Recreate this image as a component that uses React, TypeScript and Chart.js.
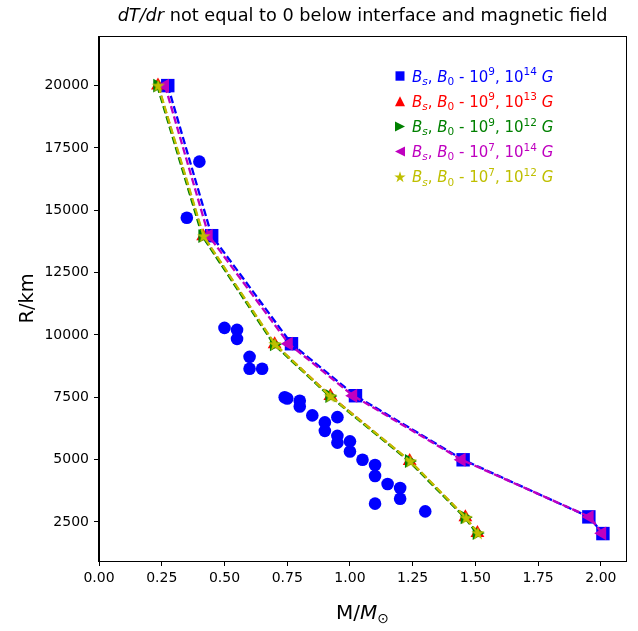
import React, { useEffect, useRef } from 'react';
import { Chart, registerables } from 'chart.js';

Chart.register(...registerables);

// Observed data (blue circles)
const obsMass = [0.40, 0.35, 0.50, 0.55, 0.55, 0.60, 0.60, 0.65, 0.74, 0.75, 0.80, 0.80, 0.85, 0.90, 0.90, 0.95, 0.95, 0.95, 1.00, 1.00, 1.05, 1.10, 1.10, 1.10, 1.15, 1.20, 1.20, 1.30];
const obsRadius = [16950, 14700, 10280, 10200, 9840, 9120, 8640, 8640, 7500, 7450, 7360, 7130, 6770, 6490, 6150, 6700, 5950, 5680, 5730, 5320, 4990, 4780, 4340, 3230, 4020, 3860, 3430, 2920];

// Bs, B0 - 1e9, 1e14 G
const blueMass = [0.274, 0.449, 0.767, 1.022, 1.451, 1.952, 2.008];
const blueRadius = [20000, 13980, 9645, 7560, 4990, 2700, 2030];
// Bs, B0 - 1e9, 1e13 G
const redMass = [0.235, 0.415, 0.700, 0.922, 1.238, 1.460, 1.508];
const redRadius = [20000, 13960, 9620, 7550, 4940, 2680, 2050];
// Bs, B0 - 1e9, 1e12 G
const greenMass = [0.232, 0.412, 0.697, 0.918, 1.235, 1.457, 1.505];
const greenRadius = [20000, 13960, 9620, 7550, 4940, 2680, 2050];
// Bs, B0 - 1e7, 1e14 G
const magentaMass = [0.263, 0.437, 0.756, 1.013, 1.445, 1.955, 2.005];
const magentaRadius = [20000, 13980, 9645, 7560, 4990, 2700, 2040];
// Bs, B0 - 1e7, 1e12 G
const yellowMass = [0.236, 0.417, 0.701, 0.922, 1.241, 1.463, 1.510];
const yellowRadius = [20000, 13960, 9630, 7540, 4930, 2660, 2048];

const xTicks = [0, 0.25, 0.5, 0.75, 1.0, 1.25, 1.5, 1.75, 2.0];
const yTicks = [2500, 5000, 7500, 10000, 12500, 15000, 17500, 20000];

const BLUE = '#0000ff';
const RED = '#ff0000';
const GREEN = '#008000';
const MAGENTA = '#bf00bf';
const YELLOW = '#bfbf00';
const FONT = "'DejaVu Sans', sans-serif";

const pts = (xs: number[], ys: number[]) => xs.map((x, i) => ({ x, y: ys[i] }));

function starImage(color: string, size: number) {
  const c = document.createElement('canvas');
  c.width = size;
  c.height = size;
  const ctx = c.getContext('2d')!;
  const cx = size / 2, cy = size / 2 + 0.5, R = size / 2, r = R * 0.382;
  ctx.beginPath();
  for (let i = 0; i < 10; i++) {
    const a = -Math.PI / 2 + (i * Math.PI) / 5;
    const rad = i % 2 === 0 ? R : r;
    ctx.lineTo(cx + rad * Math.cos(a), cy + rad * Math.sin(a));
  }
  ctx.closePath();
  ctx.fillStyle = color;
  ctx.fill();
  return c;
}

type Seg = { t: string; it?: boolean; sub?: boolean; sup?: boolean };

function drawRich(ctx: CanvasRenderingContext2D, segs: Seg[], x: number, y: number, size: number, color: string, align: 'left' | 'center' = 'left') {
  const fontFor = (s: Seg) => `${s.it ? 'italic ' : ''}${s.sub || s.sup ? size * 0.7 : size}px ${FONT}`;
  let w = 0;
  for (const s of segs) {
    ctx.font = fontFor(s);
    w += ctx.measureText(s.t).width;
  }
  let cx = align === 'center' ? x - w / 2 : x;
  ctx.fillStyle = color;
  ctx.textAlign = 'left';
  ctx.textBaseline = 'alphabetic';
  for (const s of segs) {
    ctx.font = fontFor(s);
    const dy = s.sub ? size * 0.22 : s.sup ? -size * 0.42 : 0;
    ctx.fillText(s.t, cx, y + dy);
    cx += ctx.measureText(s.t).width;
  }
}

const legendItems = [
  { color: BLUE, marker: 'square', b: '9', c: '14' },
  { color: RED, marker: 'up', b: '9', c: '13' },
  { color: GREEN, marker: 'right', b: '9', c: '12' },
  { color: MAGENTA, marker: 'left', b: '7', c: '14' },
  { color: YELLOW, marker: 'star', b: '7', c: '12' },
];

function drawMarker(ctx: CanvasRenderingContext2D, kind: string, x: number, y: number, color: string) {
  ctx.fillStyle = color;
  const r = 5;
  ctx.beginPath();
  if (kind === 'square') {
    ctx.rect(x - 4.5, y - 4.7, 9, 9.4);
  } else if (kind === 'up') {
    ctx.moveTo(x, y - r); ctx.lineTo(x + r, y + r); ctx.lineTo(x - r, y + r);
  } else if (kind === 'right') {
    ctx.moveTo(x + r, y); ctx.lineTo(x - r, y - r); ctx.lineTo(x - r, y + r);
  } else if (kind === 'left') {
    ctx.moveTo(x - r, y); ctx.lineTo(x + r, y - r); ctx.lineTo(x + r, y + r);
  } else if (kind === 'star') {
    const R = 6, ri = R * 0.382;
    for (let i = 0; i < 10; i++) {
      const a = -Math.PI / 2 + (i * Math.PI) / 5;
      const rad = i % 2 === 0 ? R : ri;
      ctx.lineTo(x + rad * Math.cos(a), y + 0.5 + rad * Math.sin(a));
    }
  }
  ctx.closePath();
  ctx.fill();
}

const decorPlugin = {
  id: 'decor',
  afterDraw(chart: any) {
    const ctx: CanvasRenderingContext2D = chart.ctx;
    const a = chart.chartArea;
    ctx.save();
    // frame
    ctx.strokeStyle = '#000';
    ctx.lineWidth = 1;
    ctx.strokeRect(Math.round(a.left) - 0.5, Math.round(a.top) + 0.5, Math.round(a.right - a.left) + 1, Math.round(a.bottom - a.top));
    // title
    const cx = (a.left + a.right) / 2;
    drawRich(ctx, [{ t: 'dT/dr', it: true }, { t: ' not equal to 0 below interface and magnetic field' }], cx, 21, 17.7, '#000', 'center');
    // x label
    drawRich(ctx, [{ t: 'M/' }, { t: 'M', it: true }, { t: '\u2299', sub: true }], cx, 619, 20, '#000', 'center');
    // y label
    ctx.save();
    ctx.translate(33, (a.top + a.bottom) / 2);
    ctx.rotate(-Math.PI / 2);
    ctx.font = `19.4px ${FONT}`;
    ctx.fillStyle = '#000';
    ctx.textAlign = 'center';
    ctx.textBaseline = 'alphabetic';
    ctx.fillText('R/km', 0, 0);
    ctx.restore();
    // legend
    legendItems.forEach((it, i) => {
      const y = 76 + i * 25.2;
      drawMarker(ctx, it.marker, 400, y, it.color);
      drawRich(ctx, [
        { t: 'B', it: true }, { t: 's', it: true, sub: true }, { t: ', ' },
        { t: 'B', it: true }, { t: '0', sub: true }, { t: ' - 10' }, { t: it.b, sup: true },
        { t: ', 10' }, { t: it.c, sup: true }, { t: ' ' }, { t: 'G', it: true },
      ], 412, y + 5.5, 15, it.color);
    });
    ctx.restore();
  },
};

export default function App() {
  const ref = useRef<HTMLCanvasElement | null>(null);
  useEffect(() => {
    document.body.style.margin = '0';
    const star = starImage(YELLOW, 14);
    const lineDs = (label: string, xs: number[], ys: number[], color: string, style: any, rot: number, radius: number, order: number) => ({
      label,
      data: pts(xs, ys),
      borderColor: color,
      backgroundColor: color,
      borderWidth: 2.3,
      borderDash: [7.5, 3.2],
      pointStyle: style,
      pointRotation: rot,
      pointRadius: radius,
      pointBorderWidth: 0,
      pointBackgroundColor: color,
      pointBorderColor: color,
      showLine: true,
      fill: false,
      tension: 0,
      order,
    });
    const chart = new Chart(ref.current!, {
      type: 'scatter',
      data: {
        datasets: [
          {
            label: 'obs',
            data: pts(obsMass, obsRadius),
            backgroundColor: BLUE,
            borderColor: BLUE,
            pointRadius: 6.3,
            pointBorderWidth: 0,
            showLine: false,
            order: 10,
          } as any,
          lineDs('b', blueMass, blueRadius, BLUE, 'rect', 0, 9.5, 6),
          lineDs('r', redMass, redRadius, RED, 'triangle', 0, 8, 5),
          lineDs('g', greenMass, greenRadius, GREEN, 'triangle', 90, 8, 4),
          lineDs('m', magentaMass, magentaRadius, MAGENTA, 'triangle', -90, 8, 3),
          lineDs('y', yellowMass, yellowRadius, YELLOW, star, 0, 7, 2),
        ],
      },
      options: {
        animation: false,
        responsive: true,
        maintainAspectRatio: false,
        layout: { padding: { top: 36, right: 12, left: 0, bottom: 0 } },
        plugins: { legend: { display: false }, title: { display: false }, tooltip: { enabled: false } },
        scales: {
          x: {
            type: 'linear',
            min: 0,
            max: 2.1,
            afterFit: (s: any) => { s.height = 70; },
            afterBuildTicks: (s: any) => { s.ticks = xTicks.map((v) => ({ value: v })); },
            ticks: {
              callback: (v: any) => Number(v).toFixed(2),
              font: { family: FONT, size: 14 },
              color: '#000',
              padding: 4,
              maxRotation: 0,
              autoSkip: false,
            },
            grid: { display: true, drawOnChartArea: false, drawTicks: true, tickLength: 5, color: '#000' },
            border: { display: true, color: '#000', width: 1 },
          },
          y: {
            type: 'linear',
            min: 930,
            max: 21990,
            afterFit: (s: any) => { s.width = 99; },
            afterBuildTicks: (s: any) => { s.ticks = yTicks.map((v) => ({ value: v })); },
            ticks: {
              callback: (v: any) => String(v),
              font: { family: FONT, size: 14 },
              color: '#000',
              padding: 5,
              autoSkip: false,
            },
            grid: { display: true, drawOnChartArea: false, drawTicks: true, tickLength: 5, color: '#000' },
            border: { display: true, color: '#000', width: 1 },
          },
        },
      } as any,
      plugins: [decorPlugin],
    });
    return () => chart.destroy();
  }, []);
  return (
    <div style={{ width: 638, height: 631, position: 'relative' }}>
      <canvas ref={ref} />
    </div>
  );
}
